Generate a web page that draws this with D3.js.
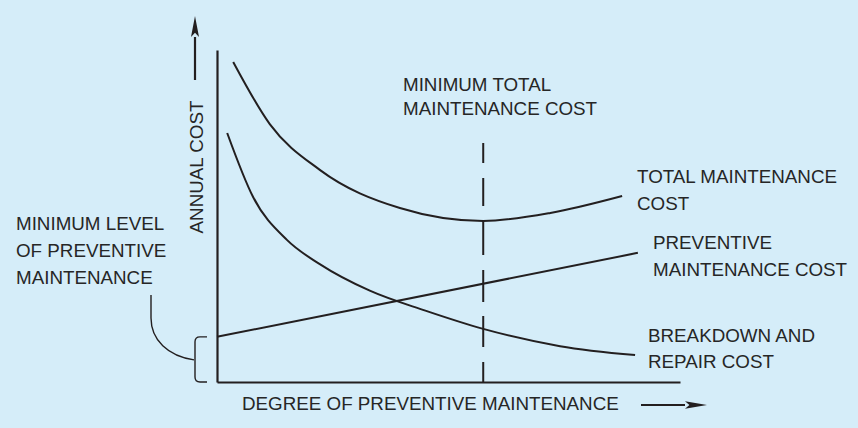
<!DOCTYPE html>
<html>
<head>
<meta charset="utf-8">
<script src="https://cdn.jsdelivr.net/npm/d3@7"></script>
<style>
  html, body { margin: 0; padding: 0; background: #d5edf9; }
  svg { display: block; }
  text { font-family: "Liberation Sans", Arial, Helvetica, sans-serif; font-size: 18.8px; fill: #262626; }
</style>
</head>
<body>
<svg id="chart" width="858" height="428"></svg>
<script>
// ---- Data (conceptual units: degree of preventive maintenance 0-100, annual cost 0-100) ----
const totalCostX = [3.5, 11.4, 22.2, 39.5, 57.5, 72.0, 87.5];
const totalCostY = [96.4, 77.7, 63.9, 52.4, 48.5, 50.9, 56.0];

const breakdownX = [2.2, 7.8, 15.1, 22.2, 33.0, 45.0, 57.5, 74.1, 90.3];
const breakdownY = [75.0, 55.7, 42.8, 35.5, 27.5, 21.5, 16.0, 10.8, 8.1];

const preventiveX = [0, 90.9];
const preventiveY = [13.6, 38.9];

const minTotalX = 57.5;       // degree at minimum total cost
const minTotalTop = 72;       // top of the dashed marker line

const labels = {
  minTotal: ["MINIMUM TOTAL", "MAINTENANCE COST"],
  total: ["TOTAL MAINTENANCE", "COST"],
  preventive: ["PREVENTIVE", "MAINTENANCE COST"],
  breakdown: ["BREAKDOWN AND", "REPAIR COST"],
  minLevel: ["MINIMUM LEVEL", "OF PREVENTIVE", "MAINTENANCE"],
  xTitle: "DEGREE OF PREVENTIVE MAINTENANCE",
  yTitle: "ANNUAL COST"
};

// ---- Layout ----
const ink = "#231f20";
const svg = d3.select("#chart");
const x = d3.scaleLinear().domain([0, 100]).range([217, 680]);
const y = d3.scaleLinear().domain([0, 100]).range([382, 50]);

// axes (no ticks)
svg.append("g").attr("transform", `translate(0,${y(0)})`)
  .call(d3.axisBottom(x).tickValues([]).tickSizeOuter(0));
svg.append("g").attr("transform", `translate(${x(0)},0)`)
  .call(d3.axisLeft(y).tickValues([]).tickSizeOuter(0));
svg.selectAll(".domain").attr("stroke", ink).attr("stroke-width", 2.2);

// axis direction arrows (shaft + head)
function arrow(x1, y1, x2, y2, len, half, sw) {
  const a = Math.atan2(y2 - y1, x2 - x1);
  const bx = x2 - len * Math.cos(a), by = y2 - len * Math.sin(a);
  svg.append("line").attr("x1", x1).attr("y1", y1).attr("x2", bx).attr("y2", by)
    .attr("stroke", ink).attr("stroke-width", sw);
  const px = -Math.sin(a) * half, py = Math.cos(a) * half;
  svg.append("path")
    .attr("d", `M${x2},${y2} L${bx + px},${by + py} L${bx + 0.2 * len * Math.cos(a)},${by + 0.2 * len * Math.sin(a)} L${bx - px},${by - py} Z`)
    .attr("fill", ink);
}
arrow(195, 80, 195, 16, 21, 4, 2.2);
arrow(641, 405, 707, 405, 22, 3.8, 1.8);

// curves
const line = d3.line().x(d => x(d[0])).y(d => y(d[1])).curve(d3.curveMonotoneX);
const zip = (a, b) => a.map((v, i) => [v, b[i]]);

svg.append("path").attr("d", line(zip(totalCostX, totalCostY)))
  .attr("fill", "none").attr("stroke", ink).attr("stroke-width", 2);
svg.append("path").attr("d", line(zip(breakdownX, breakdownY)))
  .attr("fill", "none").attr("stroke", ink).attr("stroke-width", 2);
svg.append("path").attr("d", d3.line().x(d => x(d[0])).y(d => y(d[1]))(zip(preventiveX, preventiveY)))
  .attr("fill", "none").attr("stroke", ink).attr("stroke-width", 2);

// dashed minimum line
svg.append("line").attr("x1", x(minTotalX)).attr("x2", x(minTotalX))
  .attr("y1", y(minTotalTop)).attr("y2", y(0))
  .attr("stroke", ink).attr("stroke-width", 2)
  .attr("stroke-dasharray", "20,15,28,14,35,15,32,14,31,15,20");

// bracket for minimum level of preventive maintenance
const bTop = y(preventiveY[0]), bBot = y(0), bMid = (bTop + bBot) / 2 + 0.5;
const bx = 195, r = 5;
svg.append("path")
  .attr("d", `M207,${bTop} H${bx + r} Q${bx},${bTop} ${bx},${bTop + r} V${bBot - r} Q${bx},${bBot} ${bx + r},${bBot} H207`)
  .attr("fill", "none").attr("stroke", ink).attr("stroke-width", 1.4);
svg.append("path")
  .attr("d", `M151,295 V318 C151,340 168,356 ${bx - 1},${bMid}`)
  .attr("fill", "none").attr("stroke", ink).attr("stroke-width", 1.4);

// labels
function block(lines, x0, y0, lh) {
  const t = svg.append("text").attr("x", x0).attr("y", y0);
  lines.forEach((s, i) => t.append("tspan").attr("x", x0).attr("y", y0 + i * lh).text(s));
}
block(labels.minTotal, 403, 91, 24);
block(labels.total, 637, 183, 27);
block(labels.preventive, 653, 249, 27);
block(labels.breakdown, 648, 342, 26);
block(labels.minLevel, 16, 230, 27);

svg.append("text").attr("x", 242).attr("y", 410).text(labels.xTitle);
svg.append("text").attr("transform", "translate(203,167) rotate(-90)")
  .attr("text-anchor", "middle").text(labels.yTitle);
</script>
</body>
</html>
